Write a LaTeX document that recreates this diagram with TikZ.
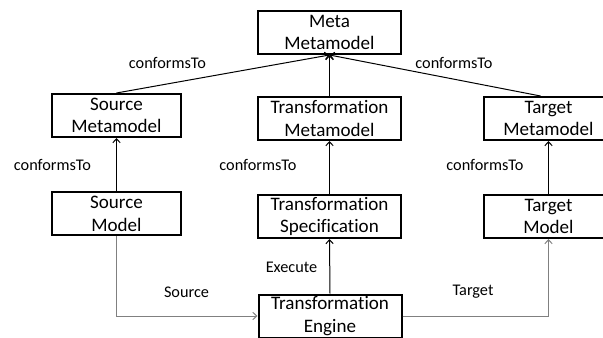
\documentclass[tikz,border=0pt]{standalone}
\usepackage{fontspec}
\setmainfont{Carlito}[Ligatures=NoCommon]
\usetikzlibrary{arrows.meta}
\begin{document}
\begin{tikzpicture}[x=0.75pt,y=-0.75pt,
  box/.style={draw=black,line width=1.5pt,align=center,inner sep=0pt,
    minimum height=32.25pt,font=\fontsize{14.3}{17}\selectfont},
  wide/.style={box,minimum width=107.25pt},
  narrow/.style={box,minimum width=96.75pt},
  lbl/.style={inner sep=0pt,font=\fontsize{12.2}{14}\selectfont},
  link/.style={line width=0.75pt,-{Straight Barb[length=3pt,width=5.5pt]}},
  flow/.style={link,draw=black!50}]
\clip (0,0) rectangle (603,338);
\useasboundingbox (0,0) rectangle (603,338);

% models and metamodels
\node[wide]   (meta)   at (329.5,32.5)  {Meta\\Metamodel};
\node[narrow] (srcmm)  at (116.5,115.5) {Source\\Metamodel};
\node[wide]   (trmm)   at (329.5,118.5) {Transformation\\Metamodel};
\node[narrow] (tgtmm)  at (548.5,118.5) {Target\\Metamodel};
\node[narrow] (srcm)   at (116.5,214)   {Source\\Model};
\node[wide]   (trspec) at (329.5,216.5) {Transformation\\Specification};
\node[narrow] (tgtm)   at (548.5,216.5) {Target\\Model};
\node[wide]   (engine) at (330,316)     {Transformation\\Engine};

% conformance relations
\draw[link] (srcmm.north) -- (meta.south);
\draw[link] (trmm.north) -- (meta.south);
\draw[link] ([xshift=-6pt]tgtmm.north) -- (meta.south);
\draw[link] (srcm.north) -- (srcmm.south);
\draw[link] (trspec.north) -- (trmm.south);
\draw[link] (tgtm.north) -- (tgtmm.south);

% execution flow
\draw[link] (engine.north) -- (trspec.south);
\draw[flow] (srcm.south) |- (engine.west);
\draw[flow] (engine.east) -| (tgtm.south);

% labels
\node[lbl] (c1) at (167.5,63) {conformsTo};
\node[lbl] (c2) at (454,63)   {conformsTo};
\node[lbl] (c3) at (52.5,165) {conformsTo};
\node[lbl] (c4) at (258,165)  {conformsTo};
\node[lbl] (c5) at (485,165)  {conformsTo};
\node[lbl] (ex) at (291.5,267) {Execute};
\node[lbl] (sr) at (186.5,292) {Source};
\node[lbl] (tg) at (473,292)   {Target};
\end{tikzpicture}
\end{document}
